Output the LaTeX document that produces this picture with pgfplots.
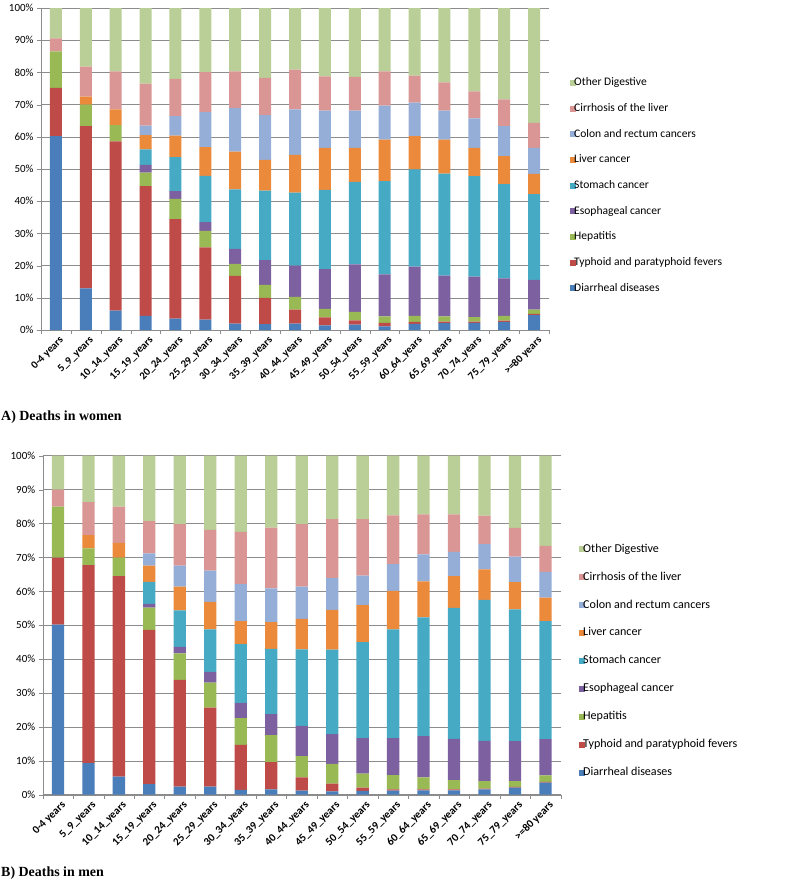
\documentclass[border=0pt]{standalone}
\usepackage{fontspec}
\setmainfont{Carlito}
\newfontfamily\capfont{Liberation Serif}
\usepackage{pgfplots}
\usepackage{pgfplotstable}
\pgfplotsset{compat=1.18}

\definecolor{cDia}{HTML}{4A7EBB}
\definecolor{cTyp}{HTML}{BE4B48}
\definecolor{cHep}{HTML}{98B954}
\definecolor{cEso}{HTML}{7D60A0}
\definecolor{cSto}{HTML}{46AAC5}
\definecolor{cLiv}{HTML}{EC8A3C}
\definecolor{cCol}{HTML}{95AED8}
\definecolor{cCir}{HTML}{D99694}
\definecolor{cOth}{HTML}{B9CF97}
\definecolor{gridc}{HTML}{8C8C8C}

% columns: diarrheal, typhoid, hepatitis, esophageal, stomach, liver, colon, cirrhosis, other
\pgfplotstableread{
x  d    t    h    e    s    l    c    ci   o
0  60.2 15.0 11.3 0.0  0.0  0.0  0.0  4.1  9.4
1  12.9 50.4 6.7  0.0  0.0  2.5  0.0  9.3  18.2
2  6.0  52.6 5.0  0.0  0.0  4.9  0.0  11.8 19.7
3  4.4  40.3 4.2  2.4  4.8  4.4  3.0  13.0 23.5
4  3.5  30.9 6.3  2.4  10.6 6.7  6.0  11.6 22.0
5  3.2  22.5 5.1  2.7  14.4 8.9  10.9 12.4 19.9
6  2.0  14.8 3.7  4.7  18.5 11.7 13.5 11.4 19.7
7  1.8  8.2  4.0  7.7  21.6 9.5  13.9 11.6 21.7
8  2.0  4.3  4.0  9.7  22.7 11.7 14.1 12.4 19.1
9  1.4  2.5  2.7  12.3 24.6 13.1 11.5 10.7 21.2
10 1.7  1.3  2.6  14.8 25.6 10.6 11.5 10.5 21.4
11 1.1  1.1  2.0  13.1 28.9 12.9 10.6 10.6 19.7
12 1.9  0.6  1.9  15.3 30.2 10.3 10.4 8.4  21.0
13 2.1  0.5  1.6  12.7 31.7 10.5 9.0  8.8  23.1
14 2.2  0.4  1.4  12.6 31.2 8.8  9.1  8.4  25.9
15 2.5  0.4  1.5  11.6 29.3 8.7  9.3  8.3  28.4
16 4.6  0.4  1.3  9.3  26.6 6.3  8.1  7.7  35.7
}\women

\pgfplotstableread{
x  d    t    h    e    s    l    c    ci   o
0  50.2 19.7 15.1 0.0  0.0  0.0  0.0  5.0  10.0
1  9.3  58.4 5.0  0.0  0.0  3.9  0.0  9.7  13.7
2  5.3  59.2 5.4  0.0  0.0  4.4  0.0  10.7 15.0
3  3.1  45.5 6.6  1.1  6.5  4.8  3.6  9.5  19.3
4  2.4  31.5 7.8  1.9  10.8 7.0  6.2  12.2 20.2
5  2.4  23.3 7.4  3.1  12.6 8.1  9.2  12.0 21.9
6  1.4  13.3 7.9  4.5  17.3 6.8  10.9 15.4 22.5
7  1.6  8.0  8.0  6.2  19.2 7.9  10.0 17.9 21.2
8  1.2  3.9  6.3  8.9  22.6 9.0  9.5  18.4 20.2
9  1.0  2.3  5.8  8.8  24.9 11.7 9.4  17.4 18.7
10 1.1  1.0  4.1  10.5 28.3 10.9 8.7  16.7 18.7
11 1.2  0.4  4.2  10.9 32.1 11.3 7.9  14.4 17.6
12 1.3  0.3  3.5  12.2 35.0 10.6 8.0  11.8 17.3
13 1.3  0.3  2.7  12.2 38.6 9.4  7.1  11.1 17.3
14 1.6  0.2  2.2  11.9 41.6 9.0  7.4  8.4  17.7
15 2.1  0.2  1.7  11.8 38.9 8.0  7.5  8.5  21.3
16 3.6  0.2  1.9  10.7 34.8 6.9  7.6  7.7  26.6
}\men

\pgfplotsset{
  stackstyle/.style={
    ybar stacked, scale only axis,
    xmin=-0.5, xmax=16.5, ymin=0, ymax=100,
    axis lines*=left,
    axis line style={gridc},
    xtick={0,...,16},
    xticklabels={0-4 years,5\_9\_years,10\_14\_years,15\_19\_years,20\_24\_years,25\_29\_years,30\_34\_years,35\_39\_years,40\_44\_years,45\_49\_years,50\_54\_years,55\_59\_years,60\_64\_years,65\_69\_years,70\_74\_years,75\_79\_years,>=80 years},
    x tick label style={rotate=45, anchor=north east, font=\bfseries\fontsize{10.8}{10.8}\selectfont, inner sep=1bp, xshift=2bp, yshift=-2bp},
    major x tick style={draw=none},
    minor xtick={-0.5,0.5,...,16.5},
    minor x tick style={gridc},
    minor tick length=4bp,
    ytick={0,10,...,100},
    yticklabels={0\%,10\%,20\%,30\%,40\%,50\%,60\%,70\%,80\%,90\%,100\%},
    y tick label style={font=\fontsize{11}{11}\selectfont},
    major y tick style={gridc},
    major tick length=4bp,
    tick align=outside,
    ymajorgrids, grid style={gridc, line width=0.6bp},
    reverse legend,
    legend cell align=left,
    legend image code/.code={\fill[##1] (0bp,-3bp) rectangle (6bp,3bp);},
  },
}

\begin{document}
\begin{tikzpicture}
\useasboundingbox (0,0) rectangle (788bp,-895bp);

\begin{axis}[stackstyle,
  at={(41bp,-330bp)}, anchor=south west,
  width=508bp, height=322bp, bar width=12bp,
  legend style={at={(1.041,0.789)}, anchor=north west, draw=none, fill=none,
    font=\fontsize{11.6}{11.6}\selectfont, row sep=12.2bp, inner sep=0pt,
    /tikz/every odd column/.append style={column sep=-3.3bp},
    nodes={inner sep=1.5bp, text height=8bp, text depth=2.5bp, font=\fontsize{11.6}{11.6}\selectfont}},
]
\addplot[fill=cDia, draw=none] table[x=x,y=d]{\women};
\addplot[fill=cTyp, draw=none] table[x=x,y=t]{\women};
\addplot[fill=cHep, draw=none] table[x=x,y=h]{\women};
\addplot[fill=cEso, draw=none] table[x=x,y=e]{\women};
\addplot[fill=cSto, draw=none] table[x=x,y=s]{\women};
\addplot[fill=cLiv, draw=none] table[x=x,y=l]{\women};
\addplot[fill=cCol, draw=none] table[x=x,y=c]{\women};
\addplot[fill=cCir, draw=none] table[x=x,y=ci]{\women};
\addplot[fill=cOth, draw=none] table[x=x,y=o]{\women};
\legend{Diarrheal diseases,Typhoid and paratyphoid fevers,Hepatitis,Esophageal cancer,Stomach cancer,Liver cancer,Colon and rectum cancers,Cirrhosis of the liver,Other Digestive}
\end{axis}

\begin{axis}[stackstyle,
  at={(42.7bp,-794.7bp)}, anchor=south west,
  width=518bp, height=339bp, bar width=12.3bp,
  x tick label style={font=\bfseries\fontsize{11.1}{11.1}\selectfont},
  legend style={at={(1.035,0.745)}, anchor=north west, draw=none, fill=none,
    font=\fontsize{12.1}{12.1}\selectfont, row sep=13.9bp, inner sep=0pt,
    /tikz/every odd column/.append style={column sep=-3.3bp},
    nodes={inner sep=1.5bp, text height=8.4bp, text depth=2.6bp, font=\fontsize{12.1}{12.1}\selectfont}},
]
\addplot[fill=cDia, draw=none] table[x=x,y=d]{\men};
\addplot[fill=cTyp, draw=none] table[x=x,y=t]{\men};
\addplot[fill=cHep, draw=none] table[x=x,y=h]{\men};
\addplot[fill=cEso, draw=none] table[x=x,y=e]{\men};
\addplot[fill=cSto, draw=none] table[x=x,y=s]{\men};
\addplot[fill=cLiv, draw=none] table[x=x,y=l]{\men};
\addplot[fill=cCol, draw=none] table[x=x,y=c]{\men};
\addplot[fill=cCir, draw=none] table[x=x,y=ci]{\men};
\addplot[fill=cOth, draw=none] table[x=x,y=o]{\men};
\legend{Diarrheal diseases,Typhoid and paratyphoid fevers,Hepatitis,Esophageal cancer,Stomach cancer,Liver cancer,Colon and rectum cancers,Cirrhosis of the liver,Other Digestive}
\end{axis}

\node[anchor=base west, inner sep=0pt, font=\capfont\bfseries\fontsize{14}{16}\selectfont] at (1bp,-420bp) {A) Deaths in women};
\node[anchor=base west, inner sep=0pt, font=\capfont\bfseries\fontsize{14}{16}\selectfont] at (1bp,-876bp) {B) Deaths in men};
\end{tikzpicture}
\end{document}
